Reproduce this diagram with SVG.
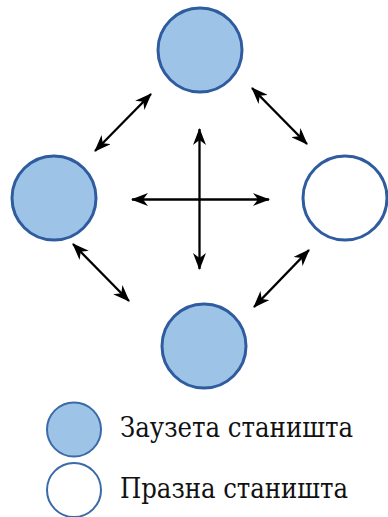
<svg xmlns="http://www.w3.org/2000/svg" width="388" height="517" viewBox="0 0 388 517">
<style>
.full{fill:#9DC3E6;stroke:#2F5C9E;stroke-width:3}
.empty{fill:#FFFFFF;stroke:#2F5C9E;stroke-width:3}
.lfull{fill:#9DC3E6;stroke:#3A6AA8;stroke-width:2}
.lempty{fill:#FFFFFF;stroke:#3A6AA8;stroke-width:2}
.arr{stroke:#000;stroke-width:2.3;fill:none;marker-start:url(#ah);marker-end:url(#ah)}
.lbl{font-family:"DejaVu Serif Condensed","DejaVu Serif","Liberation Serif",serif;font-size:28px;fill:#111}
</style>
<defs>
<marker id="ah" markerUnits="userSpaceOnUse" markerWidth="17" markerHeight="13" refX="16" refY="6.5" orient="auto-start-reverse" viewBox="0 0 17 13">
<path d="M0,0 L17,6.5 L0,13 L5,6.5 Z" fill="#000"/>
</marker>
</defs>
<g id="connectors">
<line class="arr" x1="95" y1="151" x2="151" y2="94"/>
<line class="arr" x1="252" y1="88" x2="307" y2="144"/>
<line class="arr" x1="73" y1="244" x2="129" y2="301"/>
<line class="arr" x1="254" y1="307" x2="309" y2="250"/>
<line class="arr" x1="132" y1="199.5" x2="269" y2="199.5"/>
<line class="arr" x1="199.5" y1="129" x2="199.5" y2="269"/>
</g>
<g id="node-top"><circle class="full" cx="200" cy="50" r="42"/></g>
<g id="node-left"><circle class="full" cx="54" cy="198" r="42"/></g>
<g id="node-right"><circle class="empty" cx="345" cy="198" r="42"/></g>
<g id="node-bottom"><circle class="full" cx="204" cy="346" r="42"/></g>
<g id="legend-occupied">
<circle class="lfull" cx="74" cy="429.5" r="27"/>
<text class="lbl" x="120" y="437" textLength="233" lengthAdjust="spacingAndGlyphs">Заузета станишта</text>
</g>
<g id="legend-empty">
<circle class="lempty" cx="74" cy="490" r="27"/>
<text class="lbl" x="120" y="498" textLength="228" lengthAdjust="spacingAndGlyphs">Празна станишта</text>
</g>
</svg>
